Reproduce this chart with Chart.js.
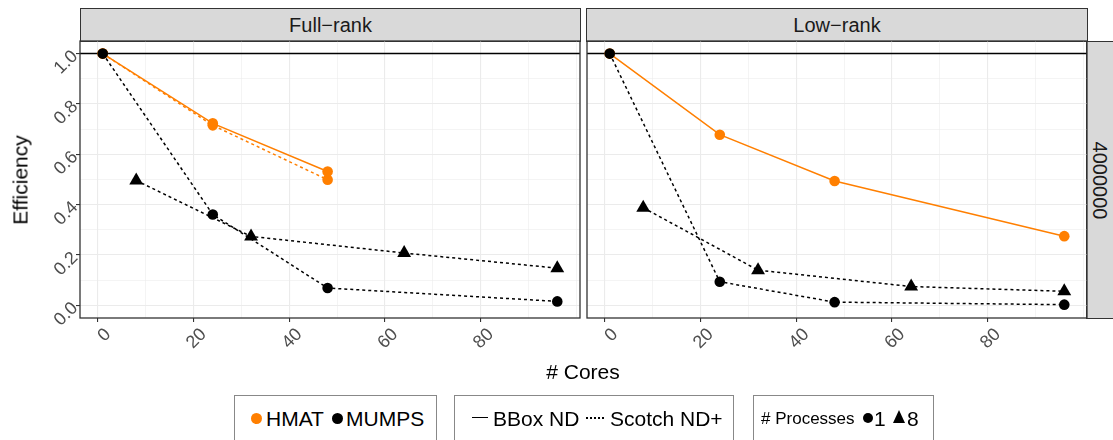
<!DOCTYPE html>
<html>
<head>
<meta charset="utf-8">
<title>Efficiency vs cores</title>
<script src="https://cdn.jsdelivr.net/npm/chart.js@4.4.0/dist/chart.umd.min.js"></script>
<style>
  body { margin: 0; width: 1113px; height: 440px; overflow: hidden; background: #fff;
         font-family: "Liberation Sans", Arial, sans-serif; position: relative; }
  canvas { position: absolute; }
  .strip { position: absolute; background: #d9d9d9; border: 1.3px solid #333; box-sizing: border-box;
           color: #1a1a1a; font-size: 20px; display: flex; align-items: center; justify-content: center; }
  .txt { position: absolute; white-space: nowrap; line-height: 1; }
  .box { position: absolute; top: 395px; height: 70px; border: 1px solid #888; box-sizing: border-box; }
  .dot { position: absolute; border-radius: 50%; }
  .leg { position: absolute; top: 418px; transform: translateY(-50%); font-size: 21px; color: #000; white-space: nowrap; line-height: 1; }
</style>
</head>
<body>

<div class="strip" style="left:80px; top:8px; width:501px; height:34px;">Full−rank</div>
<div class="strip" style="left:586px; top:8px; width:502px; height:34px;">Low−rank</div>
<div class="strip" style="left:1086px; top:41px; width:40px; height:278px;">
  <span style="transform: rotate(90deg); display:inline-block; margin-left:-12px;">4000000</span>
</div>

<canvas id="fullChart" width="583" height="330" style="left:0px; top:38px;"></canvas>
<canvas id="lowChart" width="506" height="330" style="left:584px; top:38px;"></canvas>

<div class="txt" style="left:20px; top:180px; font-size:21px; transform: translate(-50%,-50%) rotate(-90deg);">Efficiency</div>
<div class="txt" style="left:583px; top:371px; font-size:21px; transform: translate(-50%,-50%);"># Cores</div>

<!-- legends -->
<div class="box" style="left:234px; width:203px;"></div>
<div class="dot" style="left:251px; top:413px; width:11px; height:11px; background:#ff7f00;"></div>
<div class="leg" style="left:266px;">HMAT</div>
<div class="dot" style="left:332px; top:413px; width:11px; height:11px; background:#000;"></div>
<div class="leg" style="left:346px;">MUMPS</div>

<div class="box" style="left:454px; width:280px;"></div>
<div style="position:absolute; left:472px; top:417px; width:16px; border-top:1.6px solid #000;"></div>
<div class="leg" style="left:493px;">BBox ND</div>
<div style="position:absolute; left:586px; top:417px; width:19px; height:1.6px;
            background: repeating-linear-gradient(to right, #000 0 2px, transparent 2px 4px);"></div>
<div class="leg" style="left:610px;">Scotch ND+</div>

<div class="box" style="left:753px; width:181px;"></div>
<div class="leg" style="left:761px; font-size:17px;"># Processes</div>
<div class="dot" style="left:863px; top:413px; width:10px; height:10px; background:#000;"></div>
<div class="leg" style="left:874px;">1</div>
<div style="position:absolute; left:893px; top:410px; width:0; height:0; border-left:6.5px solid transparent; border-right:6.5px solid transparent; border-bottom:13px solid #000;"></div>
<div class="leg" style="left:907px;">8</div>

<script>
  // cores used for each number of processes
  const coresP1 = [1, 24, 48, 96];
  const coresP8 = [8, 32, 64, 96];

  // Full-rank panel
  const fullHmatBBox   = [1.0, 0.723, 0.532];
  const fullHmatScotch = [1.0, 0.715, 0.499];
  const fullMumpsP1    = [1.0, 0.361, 0.069, 0.016];
  const fullMumpsP8    = [0.496, 0.274, 0.208, 0.148];

  // Low-rank panel
  const lowHmatBBox = [1.0, 0.678, 0.494, 0.275];
  const lowMumpsP1  = [1.0, 0.094, 0.013, 0.003];
  const lowMumpsP8  = [0.388, 0.140, 0.075, 0.056];

  const refLine = 1.0;

  const xTickValues = [0, 10, 20, 30, 40, 50, 60, 70, 80, 90, 100];
  const xTickLabels = ['0', '', '20', '', '40', '', '60', '', '80', '', ''];
  const yTickValues = [0, 0.1, 0.2, 0.3, 0.4, 0.5, 0.6, 0.7, 0.8, 0.9, 1.0];
  const yTickLabels = ['0.0', '', '0.2', '', '0.4', '', '0.6', '', '0.8', '', '1.0'];

  const xMin = -3.75, xMax = 100.75, yMin = -0.05, yMax = 1.05;

  const ORANGE = '#ff7f00';
  const DASH = [3, 3];

  function pts(xs, ys) {
    return ys.map((y, i) => ({ x: xs[i], y: y }));
  }

  function series(data, color, dashed, shape) {
    return {
      data: data,
      showLine: true,
      borderColor: color,
      backgroundColor: color,
      borderWidth: 1.5,
      borderDash: dashed ? DASH : [],
      pointStyle: shape,
      pointRadius: shape === 'triangle' ? 8 : 5.3,
      pointBorderWidth: 0,
      pointHoverRadius: 0
    };
  }

  function refSeries() {
    return {
      data: [{ x: xMin, y: refLine }, { x: xMax, y: refLine }],
      showLine: true,
      borderColor: '#000',
      borderWidth: 1.5,
      pointRadius: 0
    };
  }

  const panelBorder = {
    id: 'panelBorder',
    afterDraw(chart) {
      const a = chart.chartArea, ctx = chart.ctx;
      ctx.save();
      ctx.strokeStyle = '#333';
      ctx.lineWidth = 1.3;
      ctx.strokeRect(a.left, a.top, a.right - a.left, a.bottom - a.top);
      ctx.restore();
    }
  };

  function makeChart(id, datasets, showY, padding) {
    const isMajorX = v => xTickLabels[xTickValues.indexOf(v)] !== '';
    const isMajorY = i => yTickLabels[i] !== '';
    return new Chart(document.getElementById(id), {
      type: 'scatter',
      data: { datasets: datasets },
      options: {
        responsive: false,
        devicePixelRatio: 1,
        animation: false,
        layout: { padding: padding, autoPadding: false },
        plugins: { legend: { display: false }, tooltip: { enabled: false } },
        scales: {
          x: {
            type: 'linear',
            min: xMin, max: xMax,
            afterBuildTicks: s => { s.ticks = xTickValues.map(v => ({ value: v })); },
            afterFit: s => { s.height = 50; s.paddingLeft = 0; s.paddingRight = 0; },
            border: { display: false },
            grid: {
              color: '#ebebeb',
              lineWidth: c => (c.tick && isMajorX(c.tick.value)) ? 1.1 : 0.55,
              tickColor: c => (c.tick && isMajorX(c.tick.value)) ? '#333' : 'rgba(0,0,0,0)',
              tickWidth: 1.1,
              tickLength: 4
            },
            ticks: {
              autoSkip: false,
              minRotation: 45, maxRotation: 45,
              padding: 2,
              labelOffset: 10,
              color: '#4d4d4d',
              font: { family: 'Liberation Sans', size: 18 },
              callback: (v, i) => xTickLabels[i]
            }
          },
          y: {
            type: 'linear',
            min: yMin, max: yMax,
            afterBuildTicks: s => { s.ticks = yTickValues.map(v => ({ value: v })); },
            afterFit: s => { s.width = showY ? 80 : 0; s.paddingTop = 0; s.paddingBottom = 0; },
            border: { display: false },
            grid: {
              color: '#ebebeb',
              lineWidth: c => isMajorY(c.index) ? 1.1 : 0.55,
              drawTicks: showY,
              tickColor: c => isMajorY(c.index) ? '#333' : 'rgba(0,0,0,0)',
              tickWidth: 1.1,
              tickLength: 4
            },
            ticks: {
              display: showY,
              autoSkip: false,
              minRotation: 45, maxRotation: 45,
              padding: 1,
              color: '#4d4d4d',
              font: { family: 'Liberation Sans', size: 18 },
              callback: (v, i) => yTickLabels[i]
            }
          }
        }
      },
      plugins: [panelBorder]
    });
  }

  makeChart('fullChart', [
    series(pts(coresP8, fullMumpsP8), '#000', true, 'triangle'),
    series(pts(coresP1, fullMumpsP1), '#000', true, 'circle'),
    series(pts(coresP1, fullHmatBBox), ORANGE, false, 'circle'),
    series(pts(coresP1, fullHmatScotch), ORANGE, true, 'circle'),
    refSeries()
  ], true, { top: 3, right: 3 });

  makeChart('lowChart', [
    series(pts(coresP8, lowMumpsP8), '#000', true, 'triangle'),
    series(pts(coresP1, lowMumpsP1), '#000', true, 'circle'),
    series(pts(coresP1, lowHmatBBox), ORANGE, false, 'circle'),
    refSeries()
  ], false, { top: 3, right: 3, left: 3 });
</script>
</body>
</html>
